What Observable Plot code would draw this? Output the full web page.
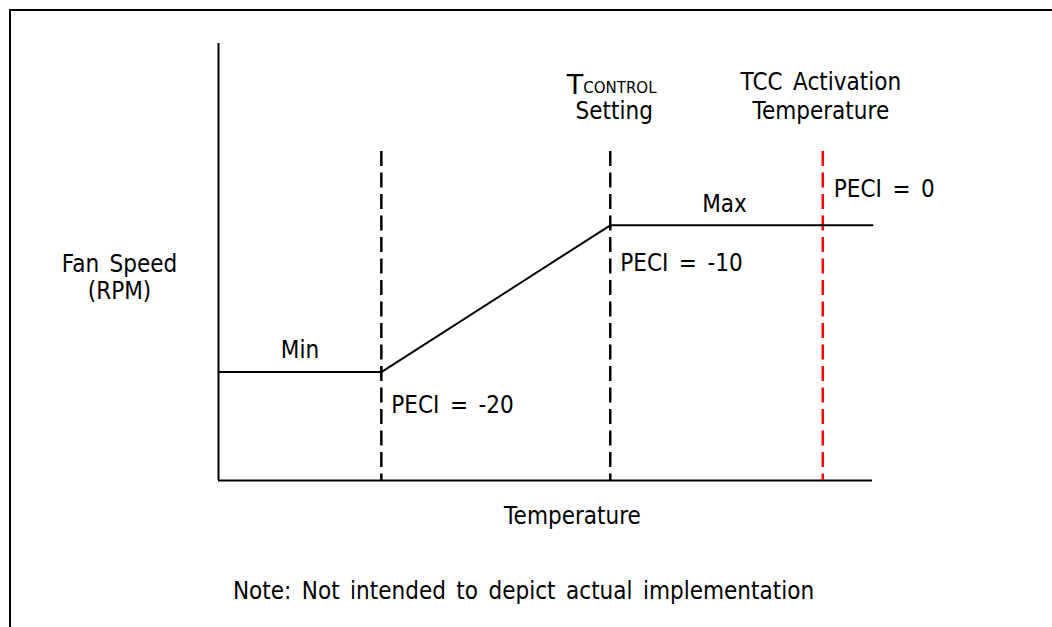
<!DOCTYPE html>
<html>
<head>
<meta charset="utf-8">
<script src="https://cdn.jsdelivr.net/npm/d3@7"></script>
<script src="https://cdn.jsdelivr.net/npm/@observablehq/plot@0.6"></script>
<style>
  html, body { margin: 0; padding: 0; background: #fff; }
  #wrap { position: relative; width: 1052px; height: 627px; overflow: hidden; }
  #border { position: absolute; left: 9px; top: 9px; right: -10px; bottom: -10px;
            border-top: 2px solid #000; border-left: 2px solid #000; }
  #chart { position: absolute; left: 0; top: 0; }
  #chart text { word-spacing: 4px; }
</style>
</head>
<body>
<div id="wrap"><div id="border"></div><div id="chart"></div></div>
<script>
// Temperature axis expressed as % of the axis length; fan speed as % of the axis height
const fanTemp  = [0, 24.9, 59.9, 100];
const fanSpeed = [24.8, 24.8, 58.4, 58.4];
const peciTemp   = [24.9, 59.9, 92.4];
const peciLabels = ["PECI = -20", "PECI = -10", "PECI = 0"];
const levelLabels = ["Min", "Max"];
const yLabel = ["Fan Speed", "(RPM)"];
const xLabel = "Temperature";
const tcontrolLabel = ["T", "CONTROL", "Setting"];
const tccLabel = ["TCC Activation", "Temperature"];
const note = "Note: Not intended to depict actual implementation";

const dashTop = 75.3;
const F = 24;
const txt = {fontSize: F, fill: "#000", lineAnchor: "middle"};

const minMid = (fanTemp[0] + peciTemp[0]) / 2;
const maxMid = (peciTemp[1] + peciTemp[2]) / 2;

const chart = Plot.plot({
  width: 1052,
  height: 627,
  marginLeft: 218,
  marginRight: 180,
  marginTop: 43,
  marginBottom: 147,
  x: {domain: [0, 100], axis: null},
  y: {domain: [0, 100], axis: null},
  style: {fontFamily: "'DejaVu Sans', Verdana, sans-serif", background: "transparent", overflow: "visible"},
  marks: [
    // axes
    Plot.ruleX([0], {y1: 0, y2: 100, stroke: "#000", strokeWidth: 2}),
    Plot.ruleY([0], {x1: 0, x2: 100, stroke: "#000", strokeWidth: 2}),
    // PECI thresholds
    Plot.ruleX(peciTemp.slice(0, 2), {x: d => d, y1: dashTop, y2: 0, stroke: "#000", strokeWidth: 2.5, strokeDasharray: "15,6.5"}),
    Plot.ruleX(peciTemp.slice(2), {x: d => d, y1: dashTop, y2: 0, stroke: "#ff0000", strokeWidth: 2.5, strokeDasharray: "15,6.5"}),
    // fan curve
    Plot.line(fanTemp, {x: d => d, y: (d, i) => fanSpeed[i], stroke: "#000", strokeWidth: 2}),
    // level labels
    Plot.text([levelLabels[0]], {x: minMid, y: fanSpeed[0], dy: -22, textAnchor: "middle", ...txt}),
    Plot.text([levelLabels[1]], {x: maxMid, y: fanSpeed[2], dx: 8, dy: -21, textAnchor: "middle", ...txt}),
    // PECI labels
    Plot.text([peciLabels[0]], {x: peciTemp[0], y: fanSpeed[0], dx: 10, dy: 33, textAnchor: "start", ...txt}),
    Plot.text([peciLabels[1]], {x: peciTemp[1], y: fanSpeed[2], dx: 10, dy: 38, textAnchor: "start", ...txt}),
    Plot.text([peciLabels[2]], {x: peciTemp[2], y: fanSpeed[2], dx: 11, dy: -35.5, textAnchor: "start", ...txt}),
    // header labels
    Plot.text([tcontrolLabel[0]], {x: peciTemp[1], frameAnchor: "top", dx: -27, dy: 41.5, textAnchor: "end", fontSize: 27, fill: "#000", lineAnchor: "middle", className: "nos"}),
    Plot.text([tcontrolLabel[1]], {x: peciTemp[1], frameAnchor: "top", dx: -27, dy: 44.5, textAnchor: "start", fontSize: 15, fill: "#000", lineAnchor: "middle", className: "nos"}),
    Plot.text([tcontrolLabel[2]], {x: peciTemp[1], frameAnchor: "top", dx: 4, dy: 68.3, textAnchor: "middle", ...txt}),
    Plot.text([tccLabel[0]], {x: peciTemp[2], frameAnchor: "top", dx: -2, dy: 39.3, textAnchor: "middle", ...txt}),
    Plot.text([tccLabel[1]], {x: peciTemp[2], frameAnchor: "top", dx: -2, dy: 68.3, textAnchor: "middle", ...txt}),
    // y label
    Plot.text([yLabel[0]], {x: 0, frameAnchor: "middle", dx: -99, dy: 2, textAnchor: "middle", ...txt}),
    Plot.text([yLabel[1]], {x: 0, frameAnchor: "middle", dx: -99, dy: 29, textAnchor: "middle", ...txt}),
    // x label & note
    Plot.text([xLabel], {frameAnchor: "bottom", dx: 27, dy: 36.3, textAnchor: "middle", ...txt}),
    Plot.text([note], {frameAnchor: "bottom", dx: -22, dy: 110.6, textAnchor: "middle", ...txt})
  ]
});

// narrow the glyphs horizontally to match the reference typeface proportions
d3.select(chart).selectAll("g:not(.nos) > text").each(function () {
  const el = this;
  const t = el.getAttribute("transform");
  if (t) {
    el.setAttribute("transform", `${t} scale(0.9,1)`);
  } else {
    const xa = el.getAttribute("x");
    const xv = xa === null ? 0 : +xa;
    if (!isNaN(xv)) {
      el.setAttribute("x", 0);
      el.setAttribute("transform", `translate(${xv},0) scale(0.9,1)`);
    }
  }
});

document.getElementById("chart").appendChild(chart);
</script>
</body>
</html>
